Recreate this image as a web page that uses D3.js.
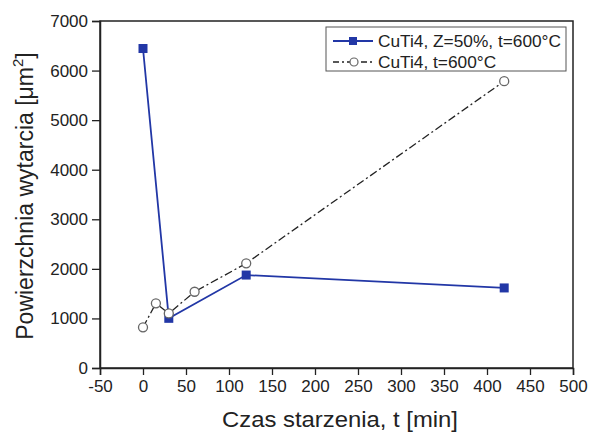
<!DOCTYPE html>
<html><head><meta charset="utf-8">
<script src="https://cdn.jsdelivr.net/npm/d3@7"></script>
<style>body{margin:0;background:#fff;} text{font-family:"Liberation Sans",Arial,sans-serif;}</style>
</head><body>
<svg id="c" width="590" height="433"></svg>
<script>
const timesA = [0, 30, 120, 420];
const valuesA = [6445, 1002, 1875, 1615];
const timesB = [0, 15, 30, 60, 120, 420];
const valuesB = [821, 1305, 1100, 1538, 2111, 5786];
const xTicks = [-50,0,50,100,150,200,250,300,350,400,450,500];
const yTicks = [0,1000,2000,3000,4000,5000,6000,7000];
const labelA = "CuTi4, Z=50%, t=600°C";
const labelB = "CuTi4, t=600°C";

const svg = d3.select("#c");
const L=100,R=573,T=21,B=368;
const x = d3.scaleLinear().domain([-50,500]).range([L,R]);
const y = d3.scaleLinear().domain([0,7000]).range([B,T]);
const blue = "#2237a6";
const ink = "#222";

// frame
svg.append("rect").attr("x",L).attr("y",T).attr("width",R-L).attr("height",B-T)
  .attr("fill","none").attr("stroke",ink).attr("stroke-width",1.5);

// x axis
const gx = svg.append("g").attr("transform",`translate(0,${B})`);
gx.call(d3.axisBottom(x).tickValues(d3.range(-25,500,50)).tickSize(4).tickFormat(""))
  .call(g=>g.select(".domain").remove());
gx.call(d3.axisBottom(x).tickValues(xTicks).tickSize(7).tickPadding(5).tickFormat(d=>String(d)))
  .call(g=>g.select(".domain").attr("stroke",ink).attr("stroke-width",1.5));
gx.selectAll("text").attr("font-size",17).attr("fill",ink);
gx.selectAll("line").attr("stroke",ink).attr("stroke-width",1.3);

// y axis
const gy = svg.append("g").attr("transform",`translate(${L},0)`);
gy.call(d3.axisLeft(y).tickValues(d3.range(500,7000,1000)).tickSize(4).tickFormat(""))
  .call(g=>g.select(".domain").remove());
gy.call(d3.axisLeft(y).tickValues(yTicks).tickSize(8).tickPadding(4).tickFormat(d=>String(d)))
  .call(g=>g.select(".domain").attr("stroke",ink).attr("stroke-width",1.5));
gy.selectAll("text").attr("font-size",17).attr("fill",ink);
gy.selectAll("line").attr("stroke",ink).attr("stroke-width",1.3);

// titles
svg.append("text").attr("x",340).attr("y",427).attr("text-anchor","middle")
  .attr("font-size",22).attr("textLength",236).attr("lengthAdjust","spacingAndGlyphs")
  .attr("fill",ink).text("Czas starzenia, t [min]");
const yt = svg.append("text").attr("transform",`translate(33,196) rotate(-90)`)
  .attr("text-anchor","middle").attr("font-size",23).attr("fill",ink);
yt.append("tspan").text("Powierzchnia wytarcia [μm");
yt.append("tspan").attr("font-size",15).attr("dy",-10).text("2");
yt.append("tspan").attr("dy",10).text("]");

const line = d3.line().x(d=>x(d[0])).y(d=>y(d[1]));
const dataA = timesA.map((t,i)=>[t,valuesA[i]]);
const dataB = timesB.map((t,i)=>[t,valuesB[i]]);

svg.append("path").attr("d",line(dataB)).attr("fill","none").attr("stroke",ink)
  .attr("stroke-width",1.3).attr("stroke-dasharray","8,3,2,3");
svg.append("path").attr("d",line(dataA)).attr("fill","none").attr("stroke",blue)
  .attr("stroke-width",1.8);

svg.selectAll(".sq").data(dataA).enter().append("rect")
  .attr("x",d=>x(d[0])-4.5).attr("y",d=>y(d[1])-4.5).attr("width",9).attr("height",9)
  .attr("fill",blue);
svg.selectAll(".ci").data(dataB).enter().append("circle")
  .attr("cx",d=>x(d[0])).attr("cy",d=>y(d[1])).attr("r",4.5)
  .attr("fill","#fff").attr("stroke","#666").attr("stroke-width",1.3);

// legend
const lg = svg.append("g");
lg.append("rect").attr("x",326).attr("y",27).attr("width",240).attr("height",44)
  .attr("fill","#fff").attr("stroke","#555").attr("stroke-width",1);
lg.append("line").attr("x1",333).attr("x2",373).attr("y1",41).attr("y2",41)
  .attr("stroke",blue).attr("stroke-width",1.8);
lg.append("rect").attr("x",349).attr("y",37).attr("width",8).attr("height",8).attr("fill",blue);
lg.append("line").attr("x1",333).attr("x2",373).attr("y1",62).attr("y2",62)
  .attr("stroke",ink).attr("stroke-width",1.3).attr("stroke-dasharray","6,3,2,3");
lg.append("circle").attr("cx",354).attr("cy",62).attr("r",4).attr("fill","#fff")
  .attr("stroke","#666").attr("stroke-width",1.2);
lg.append("text").attr("x",378).attr("y",47).attr("font-size",17.3).attr("fill",ink).text(labelA);
lg.append("text").attr("x",378).attr("y",68).attr("font-size",17.3).attr("fill",ink).text(labelB);
</script>
</body></html>
